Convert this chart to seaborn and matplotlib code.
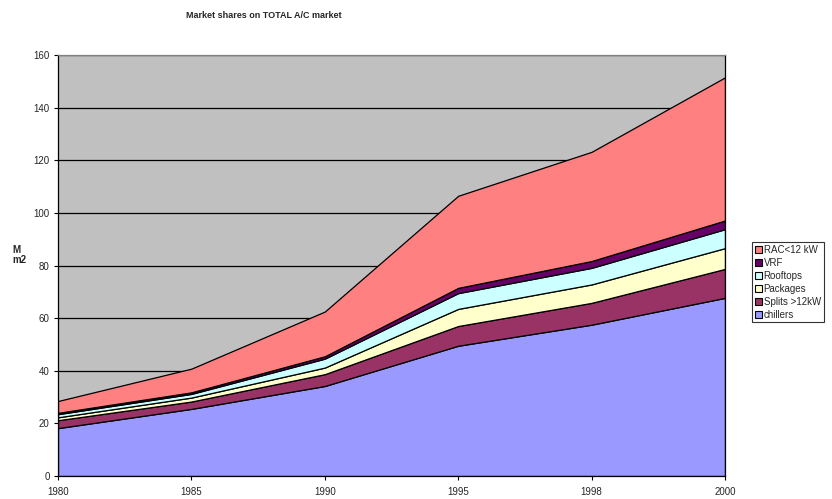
import numpy as np
import pandas as pd
import matplotlib
matplotlib.use('Agg')
import matplotlib.pyplot as plt
import seaborn as sns
from matplotlib.patches import Patch

years = ['1980', '1985', '1990', '1995', '1998', '2000']
chillers = [18.2, 25.5, 34.2, 49.5, 57.5, 67.7]
splits = [3.0, 2.8, 4.5, 7.5, 8.3, 11.0]
packages = [1.1, 1.5, 2.5, 6.5, 7.0, 7.9]
rooftops = [1.2, 1.4, 3.4, 6.0, 6.3, 7.2]
vrf = [0.5, 0.6, 0.9, 2.0, 2.6, 3.3]
rac = [4.5, 9.0, 17.0, 35.0, 41.5, 54.4]

series = ['chillers', 'Splits >12kW', 'Packages', 'Rooftops', 'VRF', 'RAC<12 kW']
colors = ['#9999FF', '#993366', '#FFFFCC', '#CCFFFF', '#660066', '#FF8080']

df = pd.DataFrame({'Year': years, 'chillers': chillers, 'Splits >12kW': splits,
                   'Packages': packages, 'Rooftops': rooftops, 'VRF': vrf,
                   'RAC<12 kW': rac})

sns.set_theme(style='white')
plt.rcParams['font.family'] = ['Liberation Sans', 'DejaVu Sans']

fig = plt.figure(figsize=(8.32, 4.99), dpi=100)
ax = fig.add_axes([58 / 832, 1 - 476 / 499, (725 - 58) / 832, (476 - 55) / 499])
ax.set_facecolor('#C0C0C0')

x = np.arange(len(years))
ax.stackplot(x, *[df[s] for s in series], colors=colors,
             edgecolor='black', linewidth=0.9, zorder=2)

ax.set_xlim(0, len(years) - 1)
ax.set_ylim(0, 160)
ax.set_yticks(range(0, 161, 20))
ax.set_xticks(x)
ax.set_xticklabels(years)
ax.yaxis.grid(True, color='black', linewidth=0.9, zorder=1)
ax.set_axisbelow(True)
ax.tick_params(axis='both', labelsize=7, length=3, width=0.8, color='black',
               direction='out', pad=3, bottom=True, left=True)
ax.tick_params(axis='x', pad=5)
for side in ['left', 'bottom', 'right']:
    ax.spines[side].set_color('black')
    ax.spines[side].set_linewidth(0.9)
ax.spines['top'].set_color('#808080')
ax.spines['top'].set_linewidth(0.9)

fig.text(264 / 832, 1 - 16 / 499, 'Market shares on TOTAL A/C market',
         ha='center', va='center', fontsize=6.5, fontweight='bold')
fig.text(12 / 832, 1 - 255 / 499, 'M\nm2', ha='left', va='center',
         fontsize=7, fontweight='bold', linespacing=1.1)

handles = [Patch(facecolor=c, edgecolor='black', linewidth=0.8, label=s)
           for s, c in zip(series, colors)][::-1]
leg = fig.legend(handles=handles, loc='upper left',
                 bbox_to_anchor=(752 / 832, 1 - 242 / 499), fontsize=7,
                 frameon=True, fancybox=False, edgecolor='black',
                 handlelength=0.7, handleheight=0.7, handletextpad=0.2,
                 labelspacing=0.3, borderpad=0.3, borderaxespad=0)
leg.get_frame().set_linewidth(0.8)

fig.savefig('out.png', dpi=100)
